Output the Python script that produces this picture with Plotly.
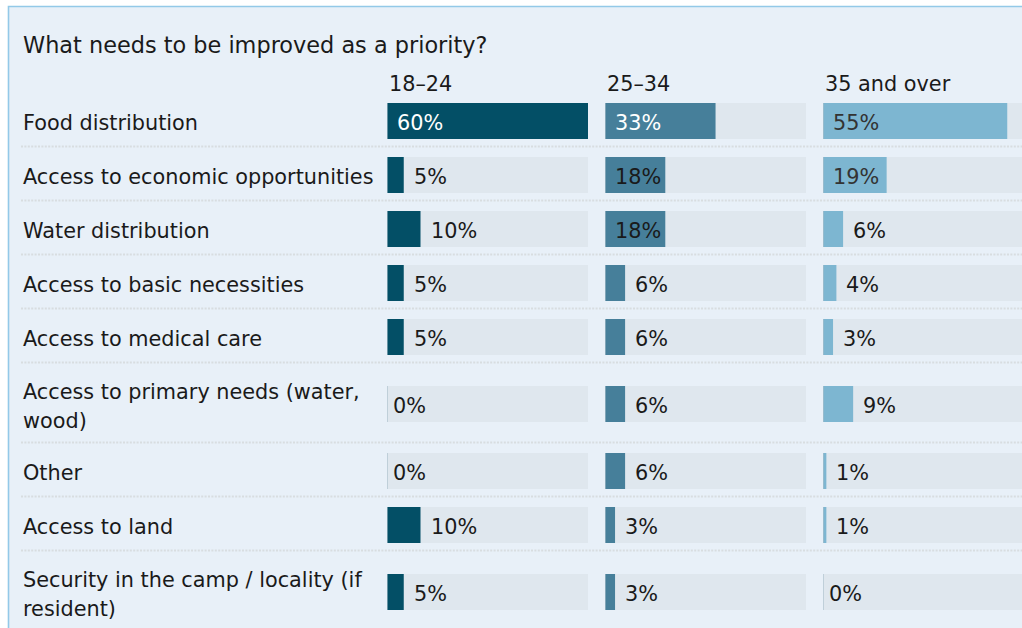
import plotly.graph_objects as go

# Survey answers: share of respondents per age group (percent)
categories = [
    "Food distribution",
    "Access to economic opportunities",
    "Water distribution",
    "Access to basic necessities",
    "Access to medical care",
    "Access to primary needs (water,<br>wood)",
    "Other",
    "Access to land",
    "Security in the camp / locality (if<br>resident)",
]
age_groups = ["18–24", "25–34", "35 and over"]
share_18_24 = [60, 5, 10, 5, 5, 0, 0, 10, 5]
share_25_34 = [33, 18, 18, 6, 6, 6, 6, 3, 3]
share_35_over = [55, 19, 6, 4, 3, 9, 1, 1, 0]
title_text = "What needs to be improved as a priority?"

# ---- layout geometry (pixels) ----
W, H = 1022, 628
FONT = "DejaVu Sans"
FS = 20.8
FS_TITLE = 22.4
LINE_GAP = 29
SCALE_MAX = 60
TRACK_W = 201
COL_LEFT = [387, 605, 823]
ROW_TOP = 94
ROW_H_ONE, ROW_H_TWO = 54, 80
BAR_H = 36
LABEL_X = 21

COLORS = ["#034f66", "#467f9a", "#7db6d1"]
TRACK = "#dfe7ee"
PANEL = "#e8f0f8"
BORDER = "#93c9e8"
TEXT = "#1a1a1a"

series = [share_18_24, share_25_34, share_35_over]

# row centres follow the label height (one or two lines)
centers, bottoms = [], []
y = ROW_TOP
for cat in categories:
    h = ROW_H_TWO if "<br>" in cat else ROW_H_ONE
    centers.append(y + h / 2)
    bottoms.append(y + h)
    y += h

fig = go.Figure()
axis_names = ["x", "x2", "x3"]
for i, (vals, color) in enumerate(zip(series, COLORS)):
    xa = axis_names[i]
    fig.add_trace(go.Bar(
        x=[SCALE_MAX] * len(vals), y=centers, orientation="h", width=BAR_H,
        marker=dict(color=TRACK, line=dict(width=0)), xaxis=xa, yaxis="y",
        hoverinfo="skip", showlegend=False,
    ))
    fig.add_trace(go.Bar(
        x=vals, y=centers, orientation="h", width=BAR_H,
        marker=dict(color=color, line=dict(width=0)), xaxis=xa, yaxis="y",
        name=age_groups[i], showlegend=False,
        hovertemplate="%{x}%<extra>" + age_groups[i] + "</extra>",
    ))

layout = dict(
    width=W, height=H,
    margin=dict(l=0, r=0, t=0, b=0),
    paper_bgcolor="white",
    plot_bgcolor="rgba(0,0,0,0)",
    barmode="overlay",
    font=dict(family=FONT, size=FS, color=TEXT),
    yaxis=dict(domain=[0, 1], range=[H, 0], visible=False, fixedrange=True),
)
for i, left in enumerate(COL_LEFT):
    right = left + TRACK_W
    dom_right = min(right, W)
    rng_max = SCALE_MAX * (dom_right - left) / TRACK_W
    key = "xaxis" if i == 0 else f"xaxis{i + 1}"
    layout[key] = dict(domain=[left / W, dom_right / W], range=[0, rng_max],
                       visible=False, fixedrange=True, anchor="y")
fig.update_layout(**layout)

shapes = []
# panel background with thin border
shapes.append(dict(type="rect", xref="paper", yref="y", x0=8.5 / W, x1=1.05,
                   y0=6.5, y1=H + 20, fillcolor=PANEL,
                   line=dict(color=BORDER, width=1.6), layer="below"))
# dotted separators between rows
for b in bottoms[:-1]:
    shapes.append(dict(type="line", xref="paper", yref="y", x0=LABEL_X / W, x1=1,
                       y0=b - 1.5, y1=b - 1.5,
                       line=dict(color="#d8dde0", width=2.2, dash="2px,1.4px"),
                       layer="below"))
# baseline tick at the start of each track
for i in range(3):
    xa = axis_names[i]
    for c in centers:
        shapes.append(dict(type="line", xref=xa, yref="y", x0=0, x1=0,
                           y0=c - BAR_H / 2, y1=c + BAR_H / 2,
                           line=dict(color="#a9bfcc", width=1.2)))

annotations = []
annotations.append(dict(text=title_text, xref="paper", yref="y", x=LABEL_X / W, y=45,
                        xanchor="left", yanchor="middle", showarrow=False,
                        font=dict(size=FS_TITLE, color=TEXT)))
for i, g in enumerate(age_groups):
    annotations.append(dict(text=g, xref="paper", yref="y", x=COL_LEFT[i] / W, y=84,
                            xanchor="left", yanchor="middle", showarrow=False,
                            font=dict(size=FS, color=TEXT)))
# category labels, one annotation per text line for a roomier line gap
for cat, c in zip(categories, centers):
    lines = cat.split("<br>")
    n = len(lines)
    for k, line in enumerate(lines):
        ly = c + 2 + (k - (n - 1) / 2) * LINE_GAP
        annotations.append(dict(text=line, xref="paper", yref="y", x=LABEL_X / W, y=ly,
                                xanchor="left", yanchor="middle", align="left",
                                showarrow=False, font=dict(size=FS, color=TEXT)))
for i, vals in enumerate(series):
    xa = axis_names[i]
    for v, c in zip(vals, centers):
        inside = v >= 15
        if inside:
            if i < 2 and v >= 30:
                col = "white"
            elif i == 2:
                col = "#333333"
            else:
                col = TEXT
            x, shift = 0, 8
        else:
            col = TEXT
            x, shift = v, (8 if v > 0 else 4)
        annotations.append(dict(text=f"{v}%", xref=xa, yref="y", x=x, y=c + 2,
                                xanchor="left", yanchor="middle", xshift=shift,
                                showarrow=False, font=dict(size=FS, color=col)))

fig.update_layout(shapes=shapes, annotations=annotations)
fig.write_html("out.html")
